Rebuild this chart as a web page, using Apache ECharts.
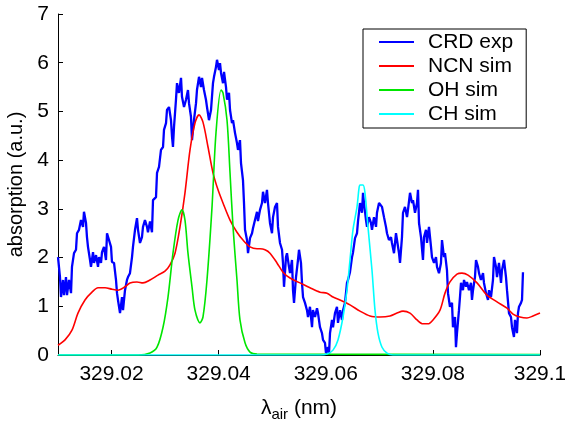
<!DOCTYPE html>
<html><head><meta charset="utf-8">
<script src="https://cdn.jsdelivr.net/npm/echarts@6/dist/echarts.min.js"></script>
<style>html,body{margin:0;padding:0;background:#fff}#c{width:565px;height:421px}</style>
</head><body><div id="c"></div>
<script>
const xTicks = [329.02, 329.04, 329.06, 329.08, 329.1];
const yTicks = [0, 1, 2, 3, 4, 5, 6, 7];
const seriesNames = ['CRD exp', 'NCN sim', 'OH sim', 'CH sim'];

const crdExp = [
[329.01000,2.01],[329.01037,1.6],[329.01056,1.19],[329.01093,1.54],[329.01112,1.23],[329.01149,1.6],[329.01168,1.23],[329.01205,1.54],[329.01243,1.27],[329.01261,1.81],
[329.01299,2.09],[329.01336,2.16],[329.01355,2.5],[329.01392,2.57],[329.01429,2.77],[329.01467,2.63],[329.01485,2.94],[329.01523,2.71],[329.01541,2.42],[329.01560,2.22],
[329.01598,1.95],[329.01616,1.81],[329.01654,2.11],[329.01672,1.89],[329.01710,2.05],[329.01747,1.81],[329.01766,2.01],[329.01803,1.89],[329.01822,2.11],[329.01859,2.22],
[329.01896,1.95],[329.01915,2.5],[329.01952,2.52],[329.01990,2.22],[329.02008,1.91],[329.02046,1.89],[329.02083,1.54],[329.02102,1.27],[329.02120,1.13],[329.02158,0.86],
[329.02195,1.19],[329.02214,0.92],[329.02251,1.33],[329.02288,1.54],[329.02307,1.6],[329.02344,1.68],[329.02382,2.01],[329.02400,2.22],[329.02438,2.57],[329.02475,2.81],
[329.02494,2.57],[329.02531,2.3],[329.02568,2.42],[329.02587,2.63],[329.02624,2.77],[329.02662,2.63],[329.02680,2.52],[329.02718,2.74],[329.02755,2.52],[329.02774,3.18],
[329.02811,3.2],[329.02830,3.24],[329.02849,3.74],[329.02886,3.86],[329.02923,4.21],[329.02961,4.27],[329.02979,4.62],[329.03017,4.76],[329.03035,5.03],[329.03073,5.09],
[329.03110,4.82],[329.03129,4.48],[329.03147,4.27],[329.03166,4.68],[329.03203,5.24],[329.03222,5.58],[329.03259,5.38],[329.03297,5.69],[329.03315,5.3],[329.03353,5.09],
[329.03390,5.24],[329.03427,5.44],[329.03446,5.17],[329.03483,4.89],[329.03502,4.41],[329.03539,4.82],[329.03577,5.17],[329.03595,5.44],[329.03633,5.71],[329.03670,5.5],
[329.03689,5.69],[329.03726,5.44],[329.03763,5.24],[329.03782,5.09],[329.03819,4.82],[329.03857,5.03],[329.03894,5.58],[329.03913,5.71],[329.03950,5.91],[329.03969,6.06],
[329.04006,5.85],[329.04025,5.99],[329.04044,5.79],[329.04081,5.58],[329.04100,5.81],[329.04137,5.5],[329.04156,5.24],[329.04193,5.38],[329.04212,5.03],[329.04249,4.76],
[329.04268,4.82],[329.04305,4.56],[329.04342,4.35],[329.04361,4.21],[329.04398,4.41],[329.04417,3.94],[329.04454,3.59],[329.04473,3.12],[329.04492,2.57],[329.04529,2.36],
[329.04548,2.09],[329.04585,2.4],[329.04623,2.5],[329.04641,2.6],[329.04678,2.77],[329.04716,2.94],[329.04734,2.75],[329.04772,2.98],[329.04809,3.12],[329.04828,3.35],
[329.04865,3.12],[329.04902,3.39],[329.04921,3.12],[329.04958,2.71],[329.04996,2.5],[329.05015,2.83],[329.05052,3.04],[329.05089,3.12],[329.05108,2.63],[329.05145,2.3],
[329.05183,2.16],[329.05201,1.89],[329.05220,1.4],[329.05257,2.01],[329.05276,2.09],[329.05313,1.81],[329.05332,1.68],[329.05369,1.95],[329.05388,1.33],[329.05407,1.07],
[329.05444,1.6],[329.05481,1.95],[329.05500,2.16],[329.05537,1.89],[329.05556,1.48],[329.05575,1.19],[329.05612,1.07],[329.05649,0.92],[329.05668,0.78],[329.05705,0.99],
[329.05743,0.57],[329.05761,0.92],[329.05799,0.78],[329.05836,0.96],[329.05855,0.86],[329.05892,0.57],[329.05929,0.45],[329.05948,0.31],[329.05985,0.25],[329.06004,0.04],
[329.06041,0.16],[329.06060,0.02],[329.06079,0.45],[329.06116,0.72],[329.06135,0.57],[329.06172,0.86],[329.06209,0.99],[329.06228,0.66],[329.06266,0.92],[329.06303,0.72],
[329.06322,0.92],[329.06359,1.07],[329.06396,1.48],[329.06415,1.54],[329.06452,1.7],[329.06490,2.01],[329.06508,2.1],[329.06546,2.4],[329.06583,2.5],[329.06602,2.75],
[329.06639,3.12],[329.06676,2.92],[329.06695,3.33],[329.06714,3.12],[329.06751,2.77],[329.06770,2.63],[329.06807,2.83],[329.06844,2.71],[329.06863,2.57],[329.06900,2.83],
[329.06938,2.63],[329.06956,2.92],[329.06994,3.12],[329.07031,3.14],[329.07050,3.04],[329.07087,2.83],[329.07124,2.63],[329.07143,2.5],[329.07180,2.36],[329.07218,2.42],
[329.07236,2.3],[329.07274,2.09],[329.07311,2.5],[329.07330,2.36],[329.07367,2.09],[329.07386,1.89],[329.07423,2.42],[329.07442,2.92],[329.07479,3.04],[329.07517,2.83],
[329.07535,2.98],[329.07573,3.33],[329.07610,3.12],[329.07629,3.18],[329.07666,2.92],[329.07703,3.12],[329.07722,3.39],[329.07741,2.71],[329.07778,2.42],[329.07815,1.95],
[329.07834,2.42],[329.07871,2.57],[329.07890,2.3],[329.07927,2.63],[329.07965,2.22],[329.07983,2.01],[329.08021,1.89],[329.08058,2.01],[329.08077,1.81],[329.08114,1.68],
[329.08151,1.89],[329.08170,2.36],[329.08207,2.01],[329.08226,2.09],[329.08263,1.74],[329.08282,1.27],[329.08319,0.99],[329.08357,1.07],[329.08375,0.57],[329.08413,0.78],
[329.08431,0.16],[329.08450,0.45],[329.08487,0.92],[329.08506,1.19],[329.08525,1.48],[329.08562,1.33],[329.08581,1.54],[329.08618,1.4],[329.08637,1.5],[329.08674,1.33],
[329.08711,1.48],[329.08730,1.13],[329.08749,1.33],[329.08786,1.6],[329.08805,1.95],[329.08842,1.81],[329.08861,1.68],[329.08898,1.54],[329.08936,1.68],[329.08954,1.48],
[329.08992,1.27],[329.09029,1.13],[329.09048,1.33],[329.09085,1.19],[329.09122,1.54],[329.09141,2.01],[329.09178,1.81],[329.09197,1.6],[329.09234,1.89],[329.09272,1.48],
[329.09290,1.74],[329.09328,1.95],[329.09365,1.6],[329.09384,1.33],[329.09421,0.86],[329.09458,0.78],[329.09477,0.57],[329.09514,0.37],[329.09533,0.72],[329.09570,0.45],
[329.09589,0.86],[329.09608,0.99],[329.09645,1.07],[329.09664,1.13],[329.09682,1.7]
];

const ncnSim = [
[329.01000,0.2],[329.01131,0.31],[329.01261,0.51],[329.01373,0.86],[329.01504,1.13],[329.01635,1.29],[329.01747,1.38],[329.01878,1.38],[329.02008,1.35],[329.02120,1.33],
[329.02251,1.4],[329.02344,1.48],[329.02475,1.5],[329.02587,1.48],[329.02718,1.54],[329.02867,1.64],[329.02998,1.72],[329.03091,1.85],[329.03185,2.09],[329.03278,2.63],
[329.03371,3.33],[329.03465,4.21],[329.03558,4.76],[329.03633,4.93],[329.03707,4.78],[329.03801,4.27],[329.03894,3.74],[329.03988,3.39],[329.04081,3.12],[329.04212,2.77],
[329.04342,2.52],[329.04454,2.36],[329.04585,2.22],[329.04716,2.18],[329.04772,2.18],[329.04865,2.16],[329.04958,2.09],[329.05089,1.89],[329.05201,1.7],[329.05332,1.58],
[329.05519,1.48],[329.05705,1.38],[329.05892,1.29],[329.06023,1.27],[329.06135,1.19],[329.06266,1.13],[329.06452,1.03],[329.06639,0.9],[329.06826,0.8],[329.07012,0.78],
[329.07199,0.8],[329.07330,0.86],[329.07442,0.9],[329.07573,0.86],[329.07703,0.72],[329.07815,0.64],[329.07909,0.64],[329.08002,0.72],[329.08133,0.92],[329.08226,1.27],
[329.08319,1.5],[329.08450,1.66],[329.08543,1.68],[329.08656,1.64],[329.08824,1.48],[329.09010,1.23],[329.09197,1.09],[329.09384,0.96],[329.09496,0.84],[329.09626,0.78],
[329.09757,0.76],[329.09869,0.8],[329.10000,0.86]
];

const ohSim = [
[329.01000,0],[329.02500,0],[329.02718,0.04],[329.02849,0.16],[329.02961,0.57],[329.03054,1.19],[329.03147,2.09],[329.03241,2.77],[329.03315,2.98],[329.03371,2.77],
[329.03427,2.09],[329.03502,1.4],[329.03558,0.92],[329.03651,0.66],[329.03707,0.78],[329.03782,1.54],[329.03876,3.04],[329.03950,4.56],[329.04044,5.44],[329.04081,5.38],
[329.04156,4.82],[329.04212,3.74],[329.04268,2.63],[329.04342,1.54],[329.04398,0.72],[329.04492,0.25],[329.04585,0.06],[329.04716,0.02],[329.10000,0.01]
];

const chSim = [
[329.01000,0],[329.05900,0],[329.06023,0.02],[329.06135,0.1],[329.06228,0.31],[329.06322,0.78],[329.06396,1.33],[329.06452,1.95],[329.06508,2.57],[329.06583,3.04],
[329.06620,3.42],[329.06639,3.49],[329.06695,3.49],[329.06732,3.33],[329.06788,2.63],[329.06863,1.74],[329.06919,0.92],[329.06975,0.45],[329.07050,0.16],[329.07143,0.04],
[329.07255,0],[329.10000,0]
];

const colors = ['#0000ff', '#ff0000', '#00e600', '#00ffff'];
const widths = [2.3, 1.6, 1.6, 1.6];
const datasets = [crdExp, ncnSim, ohSim, chSim];

const chart = echarts.init(document.getElementById('c'), null, {renderer: 'canvas'});
const font = 'Liberation Sans';
chart.setOption({
  animation: false,
  backgroundColor: '#ffffff',
  grid: {left: 58, right: 25, top: 14, bottom: 66, containLabel: false, outerBoundsMode: 'none'},
  legend: {
    orient: 'vertical', left: 363, top: 29,
    padding: [2, 13, 3, 16],
    backgroundColor: '#ffffff', borderColor: '#000000', borderWidth: 1,
    icon: 'rect', itemWidth: 35, itemHeight: 2, itemGap: 2,
    textStyle: {fontFamily: font, fontSize: 21, color: '#000', lineHeight: 22, padding: [0, 0, 0, 9]},
    data: seriesNames
  },
  xAxis: {
    type: 'value', min: 329.01, max: 329.1,
    axisLine: {show: true, lineStyle: {color: '#000', width: 1}},
    axisTick: {show: true, inside: true, length: 5, customValues: xTicks, lineStyle: {color: '#000'}},
    axisLabel: {customValues: xTicks, margin: 9, fontFamily: font, fontSize: 21, color: '#000',
      formatter: v => String(Math.round(v * 100) / 100)},
    splitLine: {show: false},
    name: '{a|λ}{s|air}{a| (nm)}', nameLocation: 'middle', nameGap: 40,
    nameTextStyle: {rich: {a: {fontFamily: font, fontSize: 21, color: '#000'}, s: {fontFamily: font, fontSize: 15, color: '#000', padding: [12, 0, 0, 0]}}}
  },
  yAxis: {
    type: 'value', min: 0, max: 7, interval: 1,
    axisLine: {show: true, lineStyle: {color: '#000', width: 1}},
    axisTick: {show: true, inside: true, length: 5, lineStyle: {color: '#000'}},
    axisLabel: {margin: 9, fontFamily: font, fontSize: 21, color: '#000'},
    splitLine: {show: false},
    name: 'absorption (a.u.)', nameLocation: 'middle', nameGap: 29,
    nameTextStyle: {fontFamily: font, fontSize: 20, color: '#000'}
  },
  series: seriesNames.map((n, i) => ({
    name: n, type: 'line', data: datasets[i], symbol: 'none', smooth: i > 0 ? 0.3 : false,
    clip: true,
    lineStyle: {color: colors[i], width: widths[i]}, itemStyle: {color: colors[i]}
  }))
});
</script></body></html>
